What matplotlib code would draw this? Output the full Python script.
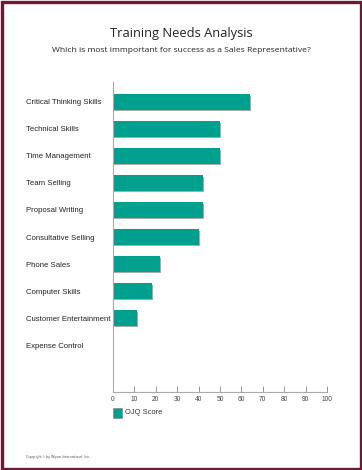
import numpy as np
import matplotlib.pyplot as plt
from matplotlib.patches import Rectangle
import matplotlib.patheffects as pe

categories = ["Critical Thinking Skills", "Technical Skills", "Time Management",
              "Team Selling", "Proposal Writing", "Consultative Selling",
              "Phone Sales", "Computer Skills", "Customer Entertainment",
              "Expense Control"]
scores = [64, 50, 50, 42, 42, 40, 22, 18, 11, 0]
x_ticks = [0, 10, 20, 30, 40, 50, 60, 70, 80, 90, 100]

teal = "#00a08f"
maroon = "#6b1a36"
W, H = 362, 470

fig = plt.figure(figsize=(W / 100, H / 100), dpi=100)
fig.patches.append(Rectangle((1.5 / W, 1.5 / H), 1 - 3 / W, 1 - 3 / H,
                             transform=fig.transFigure, fill=False,
                             edgecolor=maroon, linewidth=2.4))

fig.text(0.5, 1 - 33 / H, "Training Needs Analysis", ha="center", va="center",
         fontsize=9.3, family="Open Sans", color="#222222")
fig.text(0.5, 1 - 50 / H,
         "Which is most immportant for success as a Sales Representative?",
         ha="center", va="center", fontsize=6.1, family="Open Sans", color="#222222")

ax = fig.add_axes([113 / W, 1 - 392 / H, (327 - 113) / W, (392 - 82) / H])
y = np.arange(len(categories))
ax.barh(y, scores, height=0.56, color=teal, edgecolor="none",
        path_effects=[pe.SimplePatchShadow(offset=(1, -1), shadow_rgbFace="#aaaaaa", alpha=1),
                      pe.Normal()])
ax.set_ylim(len(categories) + 0.74, -0.74)
ax.set_xlim(0, 100)
ax.set_xticks(x_ticks)
ax.set_yticks(y)
ax.set_yticklabels(categories, fontsize=5.6, family="Liberation Sans", color="#222222")
for lab in ax.get_yticklabels():
    lab.set_horizontalalignment("left")
ax.tick_params(axis="y", length=0, pad=62.6)
ax.tick_params(axis="x", direction="in", length=4, width=0.7, color="#999999",
               labelsize=4.8, labelcolor="#444444", pad=3)
for s in ["top", "right"]:
    ax.spines[s].set_visible(False)
for s in ["left", "bottom"]:
    ax.spines[s].set_color("#aaaaaa")
    ax.spines[s].set_linewidth(0.8)
for lab in ax.get_xticklabels():
    lab.set_family("Liberation Sans")

fig.patches.append(Rectangle((113 / W, 1 - 418 / H), 9 / W, 10 / H,
                             transform=fig.transFigure, facecolor=teal,
                             edgecolor="#888888", linewidth=0.5))
fig.text(125 / W, 1 - 413 / H, "OJQ Score", ha="left", va="center",
         fontsize=5.4, family="Liberation Sans", color="#333333")
fig.text(26 / W, 1 - 457 / H, "Copyright © by Wysor International, Inc.",
         ha="left", va="center", fontsize=2.6, family="Liberation Sans", color="#555555")

fig.savefig("out.png", dpi=100)
